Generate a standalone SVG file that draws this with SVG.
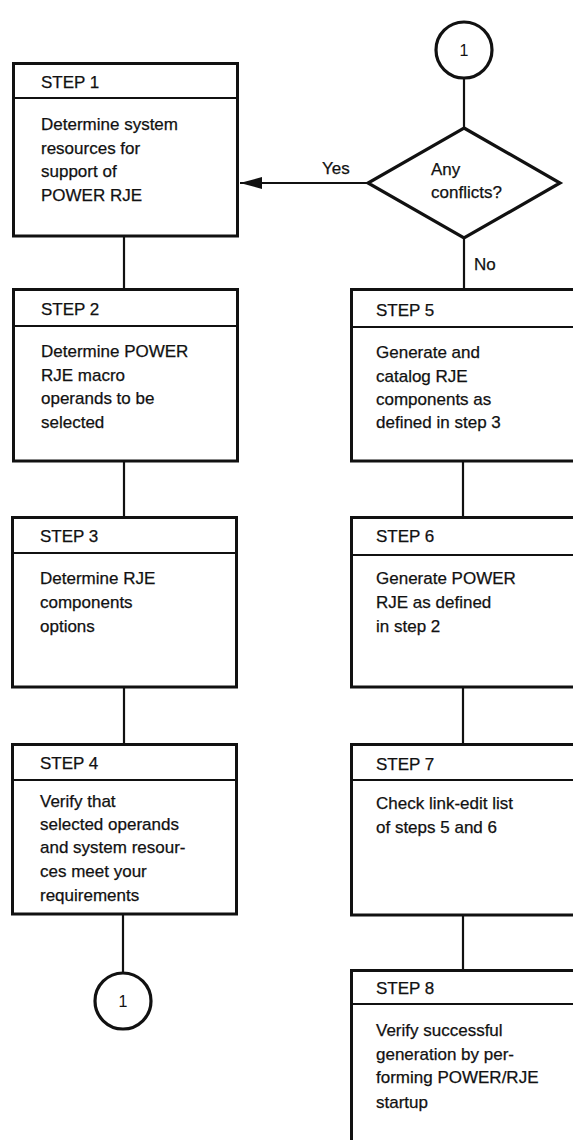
<svg xmlns="http://www.w3.org/2000/svg" width="573" height="1140" viewBox="0 0 573 1140">
<defs>
<style>
.box{fill:#fff;stroke:#111;stroke-width:3}
.div{stroke:#111;stroke-width:2}
.ln{stroke:#111;stroke-width:2.2;fill:none}
.t{font-family:"Liberation Sans",Arial,Helvetica,sans-serif;font-size:17px;fill:#111;stroke:#111;stroke-width:0.25}
.c{font-family:"Liberation Sans",Arial,Helvetica,sans-serif;font-size:16px;fill:#111;text-anchor:middle}
.circ{fill:#fff;stroke:#111;stroke-width:3.2}
</style>
<marker id="arr" markerUnits="userSpaceOnUse" markerWidth="24" markerHeight="14" refX="22" refY="7" orient="auto">
<path d="M0,1 L22,7 L0,13 Z" fill="#111"/>
</marker>
</defs>
<rect width="573" height="1140" fill="#fff"/>

<g id="connectors">
<line class="ln" x1="464" y1="78" x2="464" y2="128"/>
<line class="ln" x1="368" y1="183" x2="240" y2="183" marker-end="url(#arr)"/>
<line class="ln" x1="464" y1="238" x2="464" y2="289"/>
<line class="ln" x1="463" y1="461" x2="463" y2="517"/>
<line class="ln" x1="463" y1="687" x2="463" y2="744"/>
<line class="ln" x1="463" y1="915" x2="463" y2="970"/>
<line class="ln" x1="124" y1="236" x2="124" y2="289"/>
<line class="ln" x1="124" y1="461" x2="124" y2="517"/>
<line class="ln" x1="124" y1="687" x2="124" y2="744"/>
<line class="ln" x1="123" y1="914" x2="123" y2="973"/>
<text class="t" x="322" y="174">Yes</text>
<text class="t" x="474" y="270">No</text>
</g>

<g id="connector-top">
<circle class="circ" cx="464" cy="50" r="28"/>
<text class="c" x="464" y="56">1</text>
</g>

<g id="decision">
<polygon points="464,128 560,183 464,238 368,183" fill="#fff" stroke="#111" stroke-width="3.2" stroke-linejoin="miter"/>
<text class="t" x="431" y="175">Any</text>
<text class="t" x="431" y="198">conflicts?</text>
</g>

<g id="step1">
<rect class="box" x="13.5" y="63.5" width="224" height="172.5"/>
<line class="div" x1="13.5" y1="98" x2="237.5" y2="98"/>
<text class="t" x="41" y="88">STEP 1</text>
<text class="t" x="41" y="130">Determine system</text>
<text class="t" x="41" y="154">resources for</text>
<text class="t" x="41" y="177">support of</text>
<text class="t" x="41" y="201">POWER RJE</text>
</g>

<g id="step2">
<rect class="box" x="13.5" y="289.5" width="224" height="171.5"/>
<line class="div" x1="13.5" y1="326" x2="237.5" y2="326"/>
<text class="t" x="41" y="315">STEP 2</text>
<text class="t" x="41" y="357">Determine POWER</text>
<text class="t" x="41" y="381">RJE macro</text>
<text class="t" x="41" y="404">operands to be</text>
<text class="t" x="41" y="428">selected</text>
</g>

<g id="step3">
<rect class="box" x="12.5" y="517.5" width="224" height="169.5"/>
<line class="div" x1="12.5" y1="553" x2="236.5" y2="553"/>
<text class="t" x="40" y="542">STEP 3</text>
<text class="t" x="40" y="584">Determine RJE</text>
<text class="t" x="40" y="608">components</text>
<text class="t" x="40" y="632">options</text>
</g>

<g id="step4">
<rect class="box" x="12.5" y="744.5" width="224" height="169.5"/>
<line class="div" x1="12.5" y1="780" x2="236.5" y2="780"/>
<text class="t" x="40" y="769">STEP 4</text>
<text class="t" x="40" y="807">Verify that</text>
<text class="t" x="40" y="830">selected operands</text>
<text class="t" x="40" y="853">and system resour-</text>
<text class="t" x="40" y="877">ces meet your</text>
<text class="t" x="40" y="901">requirements</text>
</g>

<g id="connector-bottom">
<circle class="circ" cx="123" cy="1001" r="28"/>
<text class="c" x="123" y="1007">1</text>
</g>

<g id="step5">
<rect class="box" x="351.5" y="289.5" width="240" height="171.5"/>
<line class="div" x1="351.5" y1="327" x2="591" y2="327"/>
<text class="t" x="376" y="316">STEP 5</text>
<text class="t" x="376" y="358">Generate and</text>
<text class="t" x="376" y="382">catalog RJE</text>
<text class="t" x="376" y="405">components as</text>
<text class="t" x="376" y="428">defined in step 3</text>
</g>

<g id="step6">
<rect class="box" x="351.5" y="517.5" width="240" height="169.5"/>
<line class="div" x1="351.5" y1="555" x2="591" y2="555"/>
<text class="t" x="376" y="542">STEP 6</text>
<text class="t" x="376" y="584">Generate POWER</text>
<text class="t" x="376" y="608">RJE as defined</text>
<text class="t" x="376" y="632">in step 2</text>
</g>

<g id="step7">
<rect class="box" x="351.5" y="744.5" width="240" height="170.5"/>
<line class="div" x1="351.5" y1="780" x2="591" y2="780"/>
<text class="t" x="376" y="770">STEP 7</text>
<text class="t" x="376" y="809">Check link-edit list</text>
<text class="t" x="376" y="833">of steps 5 and 6</text>
</g>

<g id="step8">
<rect class="box" x="351.5" y="970.5" width="240" height="200"/>
<line class="div" x1="351.5" y1="1004" x2="591" y2="1004"/>
<text class="t" x="376" y="994">STEP 8</text>
<text class="t" x="376" y="1036">Verify successful</text>
<text class="t" x="376" y="1060">generation by per-</text>
<text class="t" x="376" y="1083">forming POWER/RJE</text>
<text class="t" x="376" y="1108">startup</text>
</g>
</svg>
